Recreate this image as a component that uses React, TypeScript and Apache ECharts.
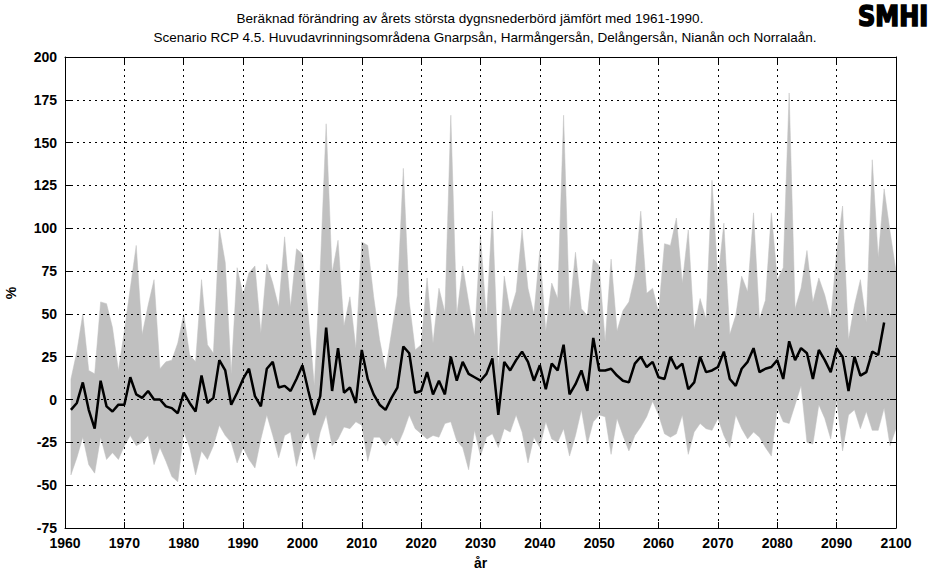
import React, { useEffect, useRef } from "react";
import * as echarts from "echarts";

const firstYear = 1961;

const medianValues = [
  -6, -2, 10, -6, -17, 11, -4, -7, -3, -3,
  13, 3, 1, 5, 0, 0, -4, -5, -8, 4,
  -2, -7, 14, -2, 1, 23, 17, -3, 4, 12,
  18, 2, -4, 18, 22, 7, 8, 5, 12, 20,
  5, -9, 2, 42, 5, 30, 4, 7, -2, 29,
  12, 3, -3, -6, 1, 7, 31, 27, 4, 5,
  16, 3, 11, 3, 25, 11, 22, 15, 13, 11,
  15, 24, -9, 22, 17, 23, 28, 22, 11, 20,
  6, 21, 17, 32, 3, 9, 17, 5, 36, 17,
  17, 18, 14, 11, 10, 21, 25, 19, 22, 13,
  12, 25, 18, 21, 6, 10, 25, 16, 17, 19,
  28, 12, 8, 18, 22, 30, 16, 18, 19, 23,
  12, 34, 23, 30, 27, 12, 29, 23, 16, 30,
  25, 5, 25, 14, 16, 28, 26, 45,
];

const maxValues = [
  12, 28, 50, 17, 15, 57, 56, 42, 17, 40,
  65, 90, 38, 55, 70, 18, 22, 23, 33, 50,
  26, 22, 70, 32, 27, 100, 80, 15, 77, 61,
  74, 78, 39, 79, 68, 54, 95, 54, 88, 85,
  49, 8, 76, 161, 74, 93, 43, 60, 30, 92,
  90, 60, 35, 17, 39, 61, 135, 57, 29, 32,
  71, 33, 65, 51, 166, 49, 78, 57, 37, 96,
  47, 110, 18, 72, 51, 63, 99, 65, 50, 87,
  40, 68, 59, 166, 51, 86, 53, 49, 82, 78,
  34, 82, 40, 52, 57, 72, 110, 62, 65, 51,
  91, 90, 106, 68, 99, 41, 59, 47, 128, 70,
  103, 38, 49, 72, 63, 109, 47, 58, 109, 70,
  77, 179, 53, 65, 87, 57, 71, 61, 47, 86,
  113, 35, 55, 70, 45, 140, 83, 123, 98, 75,
];

const minValues = [
  -44, -34, -22, -38, -43, -22, -35, -31, -35, -27,
  -21, -27, -25, -21, -38, -28, -36, -45, -48, -19,
  -28, -44, -30, -35, -27, -15, -21, -25, -37, -28,
  -35, -40, -23, -9, -21, -34, -21, -19, -39, -25,
  -19, -35, -19, -9, -27, -23, -16, -17, -13, -15,
  -36, -22, -22, -27, -22, -27, -19, -9, -17, -20,
  -23, -21, -22, -14, -13, -24, -28, -41, -18, -33,
  -22, -20, -28, -17, -19, -9, -19, -37, -22, -28,
  -13, -23, -25, -17, -33, -21, -6, -26, -13, -9,
  -10, -32, -11, -21, -30, -21, -16, -10, -1, -9,
  -20, -22, -20, -9, -32, -19, -14, -17, -18, -11,
  -21, -28, -9, -17, -23, -19, -22, -28, -33, -5,
  -13, -14, -3, 8, -25, -26, -3, -11, -23, 0,
  -30, -9, -6, -17, -7, -18, -18, -5, -27, -17,
];

const xTicks = { min: 1960, max: 2100, interval: 10 };
const yTicks = { min: -75, max: 200, interval: 25 };

const titleLine1 = "Beräknad förändring av årets största dygnsnederbörd jämfört med 1961-1990.";
const titleLine2 =
  "Scenario RCP 4.5. Huvudavrinningsområdena Gnarpsån, Harmångersån, Delångersån, Nianån och Norralaån.";
const yAxisTitle = "%";
const xAxisTitle = "år";

const axisFont = "'Liberation Sans', Arial, Helvetica, sans-serif";

export default function App() {
  const ref = useRef<HTMLDivElement>(null);

  useEffect(() => {
    if (!ref.current) return;
    const chart = echarts.init(ref.current, undefined, { renderer: "svg" });

    const bandData = maxValues.map((v, i) => [firstYear + i, minValues[i], v]);
    const medianData = medianValues.map((v, i) => [firstYear + i, v]);

    const labelStyle = {
      color: "#000",
      fontWeight: "bold" as const,
      fontSize: 14,
      fontFamily: axisFont,
    };
    const gridLine = { show: true, lineStyle: { color: "#000", type: [2, 4], width: 1 } };
    const axisLine = { show: true, onZero: false, lineStyle: { color: "#000", width: 1 } };
    const tick = { show: true, inside: true, length: 6, lineStyle: { color: "#000", width: 1 } };

    chart.setOption({
      animation: false,
      backgroundColor: "#fff",
      grid: {
        left: 65,
        right: 37,
        top: 57,
        bottom: 45,
        containLabel: false,
        outerBoundsMode: "none",
      },
      xAxis: [
        {
          type: "value",
          position: "bottom",
          ...xTicks,
          z: 5,
          axisLine,
          axisTick: tick,
          splitLine: gridLine,
          axisLabel: { ...labelStyle, margin: 8, formatter: (v: number) => String(v) },
          name: xAxisTitle,
          nameLocation: "middle",
          nameGap: 28,
          nameTextStyle: labelStyle,
        },
        {
          type: "value",
          position: "top",
          ...xTicks,
          z: 5,
          axisLine,
          axisTick: tick,
          splitLine: { show: false },
          axisLabel: { show: false },
        },
      ],
      yAxis: [
        {
          type: "value",
          position: "left",
          ...yTicks,
          z: 5,
          axisLine,
          axisTick: tick,
          splitLine: gridLine,
          axisLabel: { ...labelStyle, margin: 8 },
        },
        {
          type: "value",
          position: "right",
          ...yTicks,
          z: 5,
          axisLine,
          axisTick: tick,
          splitLine: { show: false },
          axisLabel: { show: false },
        },
      ],
      series: [
        {
          type: "custom",
          data: bandData,
          encode: { x: 0, y: [1, 2] },
          silent: true,
          z: 1,
          renderItem: (params: any, api: any) => {
            if (params.dataIndex !== 0) return null;
            const upper = bandData.map((d) => api.coord([d[0], d[2]]));
            const lower = bandData.map((d) => api.coord([d[0], d[1]])).reverse();
            return {
              type: "polygon",
              shape: { points: upper.concat(lower) },
              style: { fill: "#c0c0c0", stroke: "#c0c0c0", lineWidth: 0.5 },
            };
          },
        },
        {
          type: "line",
          data: medianData,
          symbol: "none",
          lineStyle: { color: "#000", width: 2.5 },
          z: 3,
        },
      ],
      graphic: [
        {
          type: "text",
          x: 470,
          y: 18,
          style: {
            text: titleLine1,
            fill: "#000",
            font: `13.5px ${axisFont}`,
            textAlign: "center",
            textVerticalAlign: "middle",
          },
        },
        {
          type: "text",
          x: 485,
          y: 37,
          style: {
            text: titleLine2,
            fill: "#000",
            font: `13.5px ${axisFont}`,
            textAlign: "center",
            textVerticalAlign: "middle",
          },
        },
        {
          type: "text",
          x: 11,
          y: 293,
          rotation: Math.PI / 2,
          style: {
            text: yAxisTitle,
            fill: "#000",
            font: `bold 14px ${axisFont}`,
            textAlign: "center",
            textVerticalAlign: "middle",
          },
        },
        {
          type: "text",
          x: 858,
          y: 2,
          scaleX: 0.92,
          style: {
            text: "SMHI",
            fill: "#000",
            stroke: "#000",
            lineWidth: 1.6,
            font: `900 29px 'DejaVu Sans Condensed', 'DejaVu Sans', sans-serif`,
            textVerticalAlign: "top",
            letterSpacing: -1,
          },
        },
      ],
    });

    return () => chart.dispose();
  }, []);

  return (
    <div
      ref={ref}
      style={{ position: "absolute", left: 0, top: 0, width: 933, height: 573 }}
    />
  );
}
